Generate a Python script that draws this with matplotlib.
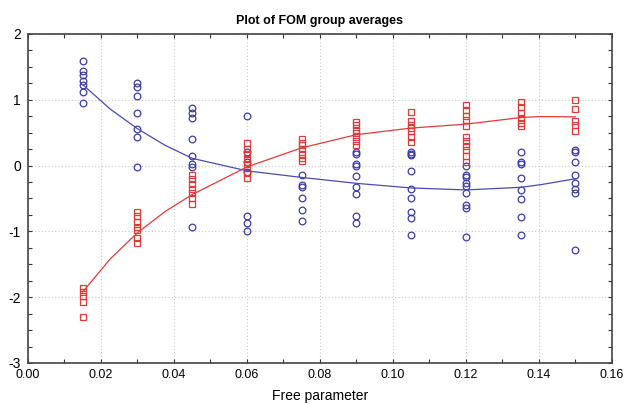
import matplotlib
matplotlib.use("Agg")
import matplotlib.pyplot as plt
from matplotlib.ticker import MultipleLocator

plt.rcParams["axes.unicode_minus"] = False

# group positions (free parameter)
x_groups = [0.015, 0.03, 0.045, 0.06, 0.075, 0.09, 0.105, 0.12, 0.135, 0.15]

# blue circles, one list per group
blue_vals = [
    [1.59, 1.43, 1.38, 1.28, 1.22, 1.12, 0.95],
    [1.25, 1.19, 1.06, 0.80, 0.55, 0.43, -0.02],
    [0.87, 0.80, 0.72, 0.41, 0.14, 0.03, -0.02, -0.93],
    [0.75, 0.21, 0.05, -0.10, -0.76, -0.88, -0.99],
    [-0.15, -0.30, -0.33, -0.50, -0.67, -0.84],
    [0.20, 0.17, 0.03, 0.00, -0.16, -0.32, -0.43, -0.77, -0.88],
    [0.21, 0.18, 0.16, -0.08, -0.35, -0.50, -0.71, -0.79, -1.05],
    [0.00, -0.14, -0.17, -0.27, -0.31, -0.42, -0.60, -0.64, -1.08],
    [0.20, 0.05, 0.02, -0.19, -0.37, -0.51, -0.78, -1.05],
    [0.24, 0.20, 0.06, -0.14, -0.26, -0.36, -0.42, -1.28],
]

# red squares, one list per group
red_vals = [
    [-1.86, -1.92, -1.98, -2.08, -2.30],
    [-0.71, -0.76, -0.85, -0.93, -0.98, -1.10, -1.17],
    [-0.14, -0.20, -0.28, -0.36, -0.42, -0.50, -0.58],
    [0.35, 0.25, 0.17, 0.10, 0.03, -0.04, -0.12, -0.19],
    [0.40, 0.35, 0.31, 0.25, 0.18, 0.11, 0.07],
    [0.66, 0.62, 0.54, 0.49, 0.44, 0.37, 0.32],
    [0.81, 0.68, 0.62, 0.57, 0.52, 0.44, 0.36],
    [0.92, 0.84, 0.76, 0.70, 0.60, 0.44, 0.37, 0.30, 0.23, 0.15, 0.06],
    [0.96, 0.89, 0.80, 0.73, 0.65, 0.60],
    [0.99, 0.86, 0.68, 0.61, 0.53],
]

# fitted curves
fit_x = [0.015, 0.0225, 0.03, 0.0375, 0.045, 0.06, 0.075, 0.09, 0.105, 0.12, 0.135, 0.1405, 0.15]
blue_fit = [1.23, 0.86, 0.56, 0.31, 0.11, -0.08, -0.18, -0.27, -0.34, -0.37, -0.33, -0.29, -0.20]
red_fit = [-1.92, -1.42, -1.02, -0.70, -0.44, -0.02, 0.27, 0.47, 0.57, 0.63, 0.73, 0.745, 0.74]

BLUE = "#3b3ba6"
RED = "#e23a3a"
FONT = "Liberation Sans"

fig = plt.figure(figsize=(6.32, 4.04), dpi=100)
ax = fig.add_axes([0.0443, 0.1015, 0.924, 0.8144])

for xg, vals in zip(x_groups, blue_vals):
    ax.plot([xg] * len(vals), vals, "o", ms=4.8, mfc="none", mec=BLUE, mew=0.9)
for xg, vals in zip(x_groups, red_vals):
    ax.plot([xg] * len(vals), vals, "s", ms=4.6, mfc="none", mec=RED, mew=0.9)

ax.plot(fit_x, blue_fit, "-", color="#4a4ab0", lw=0.9)
ax.plot(fit_x, red_fit, "-", color=RED, lw=0.9)

ax.set_xlim(0, 0.16)
ax.set_ylim(-3, 2)
ax.xaxis.set_major_locator(MultipleLocator(0.02))
ax.xaxis.set_minor_locator(MultipleLocator(0.01))
ax.yaxis.set_major_locator(MultipleLocator(1))
ax.yaxis.set_minor_locator(MultipleLocator(0.25))
ax.xaxis.set_major_formatter(plt.FuncFormatter(lambda v, p: f"{v:.2f}"))
ax.tick_params(which="both", direction="in", top=True, right=True,
               color="#333333", length=3, width=0.8)
ax.tick_params(axis="x", which="major", labelsize=9, pad=4)
ax.tick_params(axis="y", which="major", labelsize=10, pad=5)
for lab in ax.get_xticklabels() + ax.get_yticklabels():
    lab.set_fontfamily(FONT)
for lab in ax.get_yticklabels():
    lab.set_verticalalignment("center_baseline")
ax.grid(True, which="major", linestyle=(0, (1, 2)), color="#c8c8c8", lw=0.8)
for s in ax.spines.values():
    s.set_color("#444444")
    s.set_linewidth(1.2)

ax.set_title("Plot of FOM group averages", fontsize=9, fontweight="bold",
             family=FONT, pad=7)
ax.set_xlabel("Free parameter", fontsize=10, family=FONT, labelpad=6)

fig.savefig("out.png", dpi=100)
